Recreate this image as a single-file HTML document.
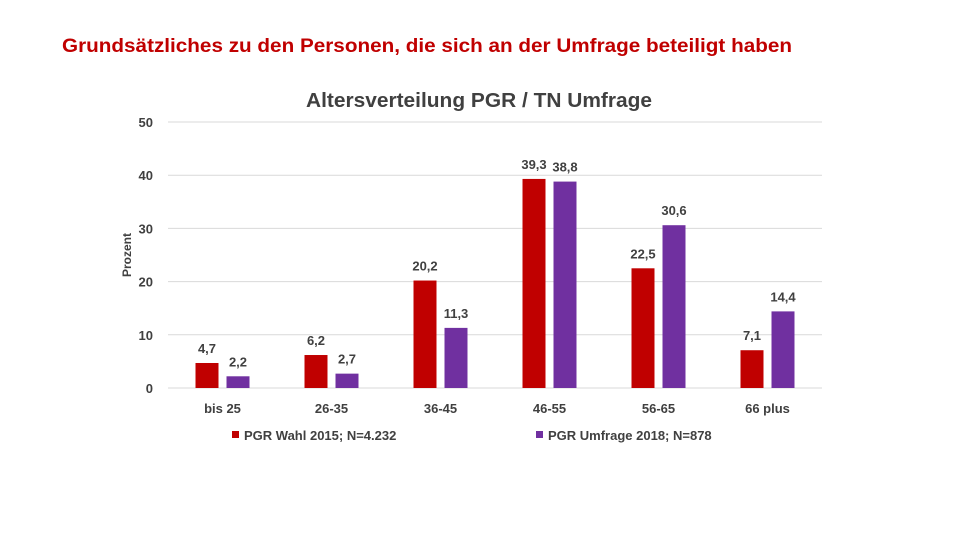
<!DOCTYPE html>
<html><head><meta charset="utf-8"><style>
body{margin:0;background:#fff;width:960px;height:540px;overflow:hidden;font-family:"Liberation Sans",sans-serif}
svg text{font-family:"Liberation Sans",sans-serif}
</style></head><body>
<svg id="c" width="960" height="540">
<text x="62" y="52" font-size="19.5" textLength="730" lengthAdjust="spacingAndGlyphs" fill="#c00000" font-weight="bold">Grundsätzliches zu den Personen, die sich an der Umfrage beteiligt haben</text>
<text x="306" y="107" font-size="20" textLength="346" lengthAdjust="spacingAndGlyphs" font-weight="bold" fill="#404040">Altersverteilung PGR / TN Umfrage</text>
<text transform="translate(131,255) rotate(-90)" font-size="12" font-weight="bold" fill="#404040" text-anchor="middle">Prozent</text>
<g id="grid"></g><g id="bars"></g><g id="labels"></g>
<g>
<rect x="232" y="431" width="7" height="7" fill="#c00000"/>
<text x="244" y="440" font-size="13" font-weight="bold" fill="#404040">PGR Wahl 2015; N=4.232</text>
<rect x="536" y="431" width="7" height="7" fill="#7030a0"/>
<text x="548" y="440" font-size="13" font-weight="bold" fill="#404040">PGR Umfrage 2018; N=878</text>
</g>
</svg>
<script>
const categories=["bis 25","26-35","36-45","46-55","56-65","66 plus"];
const wahl2015=[4.7,6.2,20.2,39.3,22.5,7.1];
const umfrage2018=[2.2,2.7,11.3,38.8,30.6,14.4];
const yTicks=[0,10,20,30,40,50];
const NS="http://www.w3.org/2000/svg";
const x0=168,x1=822,y0=388,yTop=122,yMax=50;
const y=v=>y0-(v/yMax)*(y0-yTop);
const band=(x1-x0)/categories.length;
const cx=i=>x0+band*(i+0.5);
function mk(t,a,p){const e=document.createElementNS(NS,t);for(const k in a)e.setAttribute(k,a[k]);p.appendChild(e);return e;}
const G=document.getElementById('grid'),B=document.getElementById('bars'),L=document.getElementById('labels');
yTicks.forEach(t=>{
 const l=mk('line',{x1:x0,x2:x1,y1:y(t),y2:y(t),stroke:'#d9d9d9','stroke-width':1},G);
 
 
 const tx=mk('text',{x:153,y:y(t)+5,'font-size':13,'font-weight':'bold',fill:'#404040','text-anchor':'end'},G);
 tx.textContent=t;
 
 
});
const fmt=v=>String(v).replace('.',',');
categories.forEach((c,i)=>{
 const t=mk('text',{x:cx(i),y:413,'font-size':13,'font-weight':'bold',fill:'#404040','text-anchor':'middle'},L);
 t.textContent=c;
 
 
 [[wahl2015,'#c00000',-27,'2015'],[umfrage2018,'#7030a0',4,'2018']].forEach(([arr,col,off,s])=>{
  const v=arr[i];
  const r=mk('rect',{x:cx(i)+off,y:y(v),width:23,height:y0-y(v),fill:col},B);
  
  
  const lb=mk('text',{x:cx(i)+off+11.5,y:y(v)-10,'font-size':13,'font-weight':'bold',fill:'#404040','text-anchor':'middle'},L);
  lb.textContent=fmt(v);
  
  
 });
});
</script>
</body></html>
